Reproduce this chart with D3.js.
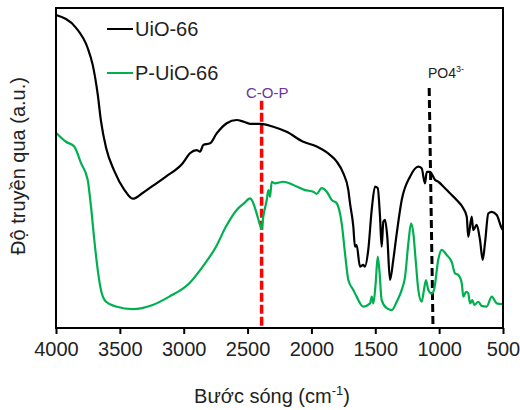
<!DOCTYPE html>
<html>
<head>
<meta charset="utf-8">
<script src="https://cdn.jsdelivr.net/npm/d3@7"></script>
<style>
  body { margin: 0; background: #fff; }
  text { font-family: Arial, "Liberation Sans", sans-serif; }
</style>
</head>
<body>
<div id="chart"></div>
<script>
// wavenumber (cm-1) and transmittance (a.u.)
const uioWn = [4000, 3843, 3752, 3713, 3673, 3648, 3608, 3544, 3465, 3399, 3321, 3243, 3139, 3008, 2951, 2898, 2872, 2847, 2794, 2742, 2663, 2585, 2533, 2481, 2403, 2299, 2194, 2064, 1959, 1855, 1802, 1750, 1711, 1698, 1672, 1659, 1646, 1620, 1594, 1581, 1555, 1528, 1502, 1481, 1463, 1450, 1437, 1424, 1406, 1385, 1359, 1332, 1293, 1228, 1163, 1137, 1111, 1097, 1072, 1032, 1007, 954, 915, 863, 811, 784, 772, 745, 733, 706, 680, 659, 641, 615, 588, 549, 510, 500];
const uioVal = [97.8, 93.8, 87.5, 82.3, 72.9, 64.7, 56.3, 49.1, 43.2, 40.4, 42.2, 44.4, 47.3, 51.5, 54.6, 55.6, 55.1, 57.2, 57.7, 60.8, 64.0, 65.0, 64.5, 63.8, 63.8, 62.9, 61.3, 58.2, 56.7, 54.1, 52.0, 48.3, 43.1, 39.0, 31.7, 25.4, 25.9, 19.2, 19.7, 19.2, 24.4, 36.9, 44.2, 43.7, 34.8, 25.4, 33.2, 33.8, 28.5, 15.0, 21.3, 29.6, 40.0, 47.3, 50.4, 49.9, 45.2, 48.8, 48.8, 46.3, 45.7, 43.7, 42.1, 40.0, 37.4, 34.8, 28.5, 34.8, 30.6, 32.2, 27.5, 21.3, 26.5, 35.8, 36.3, 35.3, 31.2, 30.6];

const puioWn = [4000, 3922, 3857, 3804, 3752, 3726, 3700, 3673, 3648, 3608, 3530, 3399, 3243, 3113, 2956, 2851, 2747, 2669, 2585, 2526, 2481, 2455, 2429, 2403, 2390, 2377, 2350, 2337, 2324, 2311, 2285, 2220, 2142, 2050, 1985, 1959, 1920, 1880, 1841, 1802, 1763, 1737, 1711, 1672, 1646, 1594, 1541, 1528, 1515, 1497, 1481, 1468, 1450, 1411, 1371, 1332, 1293, 1267, 1241, 1220, 1202, 1184, 1163, 1137, 1119, 1103, 1085, 1058, 1040, 1007, 980, 941, 902, 876, 850, 823, 811, 789, 772, 758, 740, 725, 693, 667, 628, 588, 549, 510, 500];
const puioVal = [61.0, 58.2, 56.7, 51.5, 46.3, 37.9, 27.5, 18.1, 11.9, 8.2, 6.7, 5.9, 7.2, 9.8, 14.0, 19.2, 25.4, 31.7, 36.9, 39.0, 40.5, 39.0, 35.8, 32.2, 30.9, 34.8, 40.0, 43.1, 41.0, 45.7, 45.2, 45.7, 44.7, 43.1, 42.6, 41.9, 43.7, 42.6, 40.0, 39.0, 32.7, 23.3, 15.0, 11.9, 9.8, 6.7, 7.7, 9.8, 7.7, 14.0, 22.3, 18.1, 8.7, 6.2, 5.6, 8.2, 11.9, 16.0, 26.5, 32.7, 29.6, 21.3, 11.9, 8.2, 11.9, 15.0, 11.9, 10.8, 11.9, 21.3, 24.4, 22.8, 20.7, 17.1, 16.6, 14.0, 9.8, 11.3, 10.8, 7.7, 8.7, 7.2, 8.2, 6.9, 6.7, 9.8, 7.7, 7.5, 7.5];

const xTicks = [4000, 3500, 3000, 2500, 2000, 1500, 1000, 500];
const seriesNames = ["UiO-66", "P-UiO-66"];
const seriesColors = ["#000000", "#00b050"];

// marker lines: C-O-P at ~2390, PO4 3- leaning from ~1078 (top) to ~1048 (bottom)
const copLine = { wn: [2390, 2390], val: [71, 0] };
const po4Line = { wn: [1078, 1048], val: [75, 0] };

const width = 520, height = 410;
const margin = { top: 8, right: 17, bottom: 82, left: 56 };

const svg = d3.select("#chart").append("svg")
    .attr("width", width)
    .attr("height", height);

const x = d3.scaleLinear().domain([4000, 500]).range([margin.left, width - margin.right]);
const y = d3.scaleLinear().domain([0, 100]).range([height - margin.bottom, margin.top]);

const line = d3.line()
    .x(d => x(d[0]))
    .y(d => y(d[1]))
    .curve(d3.curveMonotoneX);

const series = [
    uioWn.map((w, i) => [w, uioVal[i]]),
    puioWn.map((w, i) => [w, puioVal[i]])
];

// dashed marker lines (drawn under the curves)
svg.append("line")
    .attr("x1", x(copLine.wn[0])).attr("y1", y(copLine.val[0]))
    .attr("x2", x(copLine.wn[1])).attr("y2", y(copLine.val[1]))
    .attr("stroke", "#ff0000")
    .attr("stroke-width", 3.5)
    .attr("stroke-dasharray", "9,3");

svg.append("line")
    .attr("x1", x(po4Line.wn[0])).attr("y1", y(po4Line.val[0]))
    .attr("x2", x(po4Line.wn[1])).attr("y2", y(po4Line.val[1]))
    .attr("stroke", "#000")
    .attr("stroke-width", 3)
    .attr("stroke-dasharray", "8,4");

series.forEach((s, i) => {
    svg.append("path")
        .datum(s)
        .attr("fill", "none")
        .attr("stroke", seriesColors[i])
        .attr("stroke-width", 2.2)
        .attr("stroke-linejoin", "round")
        .attr("d", line);
});

// frame
svg.append("rect")
    .attr("x", margin.left)
    .attr("y", margin.top)
    .attr("width", width - margin.left - margin.right)
    .attr("height", height - margin.top - margin.bottom)
    .attr("fill", "none")
    .attr("stroke", "#000")
    .attr("stroke-width", 2);

// bottom axis
const xAxis = svg.append("g")
    .attr("transform", `translate(0,${height - margin.bottom})`)
    .call(d3.axisBottom(x).tickValues(xTicks).tickFormat(d3.format("d"))
        .tickSize(6).tickSizeOuter(0).tickPadding(8));
xAxis.select(".domain").remove();
xAxis.selectAll(".tick line").attr("stroke", "#000").attr("stroke-width", 2);
xAxis.selectAll(".tick text")
    .attr("font-size", 20)
    .attr("fill", "#222")
    .style("font-family", "Arial, 'Liberation Sans', sans-serif");

// axis titles
const xTitle = svg.append("text")
    .attr("x", 272)
    .attr("y", 403)
    .attr("text-anchor", "middle")
    .attr("font-size", 20)
    .attr("fill", "#222");
xTitle.append("tspan").text("Bước sóng (cm");
xTitle.append("tspan").attr("dy", -8).attr("font-size", 13).text("-1");
xTitle.append("tspan").attr("dy", 8).text(")");

svg.append("text")
    .attr("transform", "translate(25,166) rotate(-90)")
    .attr("text-anchor", "middle")
    .attr("font-size", 20)
    .attr("fill", "#222")
    .text("Độ truyền qua (a.u.)");

// legend
const legend = svg.append("g");
seriesNames.forEach((name, i) => {
    const ly = 29 + i * 44;
    legend.append("line")
        .attr("x1", 107).attr("x2", 133)
        .attr("y1", ly).attr("y2", ly)
        .attr("stroke", seriesColors[i])
        .attr("stroke-width", 2);
    legend.append("text")
        .attr("x", 135)
        .attr("y", ly + 7)
        .attr("font-size", 20)
        .attr("fill", "#222")
        .text(name);
});

// annotations
svg.append("text")
    .attr("x", 246)
    .attr("y", 98)
    .attr("font-size", 15)
    .attr("fill", "#7030a0")
    .text("C-O-P");

const po4 = svg.append("text")
    .attr("x", 428)
    .attr("y", 78)
    .attr("font-size", 14)
    .attr("fill", "#222");
po4.append("tspan").text("PO4");
po4.append("tspan").attr("dy", -6).attr("font-size", 9).text("3-");
</script>
</body>
</html>
